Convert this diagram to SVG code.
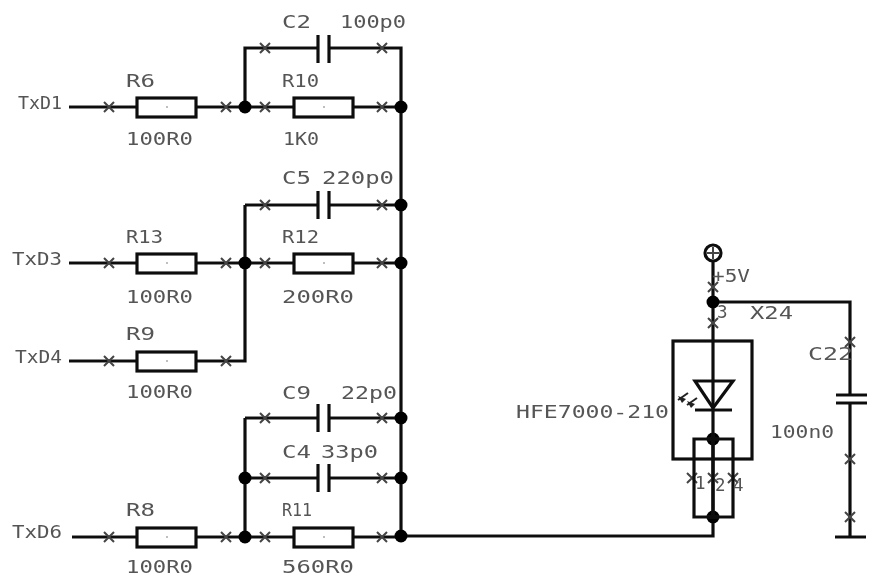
<svg xmlns="http://www.w3.org/2000/svg" xmlns:xlink="http://www.w3.org/1999/xlink" width="870" height="581" viewBox="0 0 870 581">
<style>
.w{fill:none;stroke:#111;stroke-width:3.2}
.t{font-family:"DejaVu Sans Mono","Liberation Mono",monospace;font-size:17.5px;fill:#555}
.d{fill:#000}
.x{fill:none;stroke:#444;stroke-width:2}
.c{fill:#aaa}
</style>
<defs>
<filter id="b" x="0" y="0" width="100%" height="100%"><feGaussianBlur stdDeviation="0.5"/></filter>
<g id="xm"><path class="x" d="M-5,-5L5,5M-5,5L5,-5"/></g>
<g id="res"><rect class="w" x="0" y="-9" width="59" height="19"/><circle class="c" cx="30" cy="0" r="1"/></g>
<g id="cap"><path class="w" d="M0,-14V14M11,-14V14"/></g>
</defs>
<rect width="870" height="581" fill="#fff"/>
<g filter="url(#b)">
<g id="connectors">
<path class="w" d="M69,107H137M196,107H294M352,107H401"/>
<path class="w" d="M245,107V48H318M329,48H401V536"/>
<path class="w" d="M245,205H318M329,205H401"/>
<path class="w" d="M69,263H137M196,263H294M352,263H401"/>
<path class="w" d="M69,361H137M196,361H245V205"/>
<path class="w" d="M245,418H318M329,418H401"/>
<path class="w" d="M245,478H318M329,478H401"/>
<path class="w" d="M245,418V537"/>
<path class="w" d="M72,537H137M196,537H294M352,537H401"/>
<path class="w" d="M401,536H713V439"/>
<path class="w" d="M713,261V408"/>
<path class="w" d="M713,302H850V395M850,403V537"/>
<use xlink:href="#xm" x="109" y="107"/><use xlink:href="#xm" x="226" y="107"/><use xlink:href="#xm" x="265" y="107"/><use xlink:href="#xm" x="382" y="107"/>
<use xlink:href="#xm" x="265" y="48"/><use xlink:href="#xm" x="382" y="48"/>
<use xlink:href="#xm" x="265" y="205"/><use xlink:href="#xm" x="382" y="205"/>
<use xlink:href="#xm" x="109" y="263"/><use xlink:href="#xm" x="226" y="263"/><use xlink:href="#xm" x="265" y="263"/><use xlink:href="#xm" x="382" y="263"/>
<use xlink:href="#xm" x="109" y="361"/><use xlink:href="#xm" x="226" y="361"/>
<use xlink:href="#xm" x="265" y="418"/><use xlink:href="#xm" x="382" y="418"/>
<use xlink:href="#xm" x="265" y="478"/><use xlink:href="#xm" x="382" y="478"/>
<use xlink:href="#xm" x="109" y="537"/><use xlink:href="#xm" x="226" y="537"/><use xlink:href="#xm" x="265" y="537"/><use xlink:href="#xm" x="382" y="537"/>
<use xlink:href="#xm" x="713" y="287"/><use xlink:href="#xm" x="713" y="323"/>
<use xlink:href="#xm" x="850" y="342"/><use xlink:href="#xm" x="850" y="459"/><use xlink:href="#xm" x="850" y="517"/>
<use xlink:href="#xm" x="692" y="478"/><use xlink:href="#xm" x="713" y="478"/><use xlink:href="#xm" x="733" y="478"/>
<g class="d"><circle cx="245" cy="107" r="6.5"/><circle cx="401" cy="107" r="6.5"/><circle cx="401" cy="205" r="6.5"/><circle cx="245" cy="263" r="6.5"/><circle cx="401" cy="263" r="6.5"/><circle cx="401" cy="418" r="6.5"/><circle cx="245" cy="478" r="6.5"/><circle cx="401" cy="478" r="6.5"/><circle cx="245" cy="537" r="6.5"/><circle cx="401" cy="536" r="6.5"/><circle cx="713" cy="302" r="6.5"/><circle cx="713" cy="439" r="6.5"/><circle cx="713" cy="517" r="6.5"/></g>
</g>
<g id="TxD1"><text class="t" x="18" y="109" textLength="44" lengthAdjust="spacingAndGlyphs">TxD1</text></g>
<g id="TxD3"><text class="t" x="12" y="265" textLength="50" lengthAdjust="spacingAndGlyphs">TxD3</text></g>
<g id="TxD4"><text class="t" x="15" y="363" textLength="47" lengthAdjust="spacingAndGlyphs">TxD4</text></g>
<g id="TxD6"><text class="t" x="12" y="538" textLength="50" lengthAdjust="spacingAndGlyphs">TxD6</text></g>
<g id="R6"><use xlink:href="#res" x="137" y="107"/><text class="t" x="126" y="87" textLength="29" lengthAdjust="spacingAndGlyphs">R6</text><text class="t" x="126" y="145" textLength="67" lengthAdjust="spacingAndGlyphs">100R0</text></g>
<g id="R10"><use xlink:href="#res" x="294" y="107"/><text class="t" x="282" y="87" textLength="37" lengthAdjust="spacingAndGlyphs">R10</text><text class="t" x="283" y="145" textLength="36" lengthAdjust="spacingAndGlyphs">1K0</text></g>
<g id="C2"><use xlink:href="#cap" x="318" y="49"/><text class="t" x="282" y="28" textLength="29" lengthAdjust="spacingAndGlyphs">C2</text><text class="t" x="340" y="28" textLength="66" lengthAdjust="spacingAndGlyphs">100p0</text></g>
<g id="C5"><use xlink:href="#cap" x="318" y="205"/><text class="t" x="282" y="184" textLength="29" lengthAdjust="spacingAndGlyphs">C5</text><text class="t" x="322" y="184" textLength="72" lengthAdjust="spacingAndGlyphs">220p0</text></g>
<g id="R13"><use xlink:href="#res" x="137" y="263"/><text class="t" x="126" y="243" textLength="37" lengthAdjust="spacingAndGlyphs">R13</text><text class="t" x="126" y="303" textLength="67" lengthAdjust="spacingAndGlyphs">100R0</text></g>
<g id="R12"><use xlink:href="#res" x="294" y="263"/><text class="t" x="282" y="243" textLength="37" lengthAdjust="spacingAndGlyphs">R12</text><text class="t" x="282" y="303" textLength="72" lengthAdjust="spacingAndGlyphs">200R0</text></g>
<g id="R9"><use xlink:href="#res" x="137" y="361"/><text class="t" x="126" y="340" textLength="29" lengthAdjust="spacingAndGlyphs">R9</text><text class="t" x="126" y="398" textLength="67" lengthAdjust="spacingAndGlyphs">100R0</text></g>
<g id="C9"><use xlink:href="#cap" x="318" y="418"/><text class="t" x="282" y="399" textLength="29" lengthAdjust="spacingAndGlyphs">C9</text><text class="t" x="341" y="399" textLength="56" lengthAdjust="spacingAndGlyphs">22p0</text></g>
<g id="C4"><use xlink:href="#cap" x="318" y="478"/><text class="t" x="282" y="458" textLength="29" lengthAdjust="spacingAndGlyphs">C4</text><text class="t" x="321" y="458" textLength="57" lengthAdjust="spacingAndGlyphs">33p0</text></g>
<g id="R8"><use xlink:href="#res" x="137" y="537"/><text class="t" x="126" y="516" textLength="29" lengthAdjust="spacingAndGlyphs">R8</text><text class="t" x="126" y="573" textLength="67" lengthAdjust="spacingAndGlyphs">100R0</text></g>
<g id="R11"><use xlink:href="#res" x="294" y="537"/><text class="t" x="282" y="516" textLength="30" lengthAdjust="spacingAndGlyphs">R11</text><text class="t" x="282" y="573" textLength="72" lengthAdjust="spacingAndGlyphs">560R0</text></g>
<g id="VCC"><circle class="w" cx="713" cy="253" r="8"/><path class="x" d="M707,253H719M713,247V259"/><text class="t" x="712" y="282" textLength="38" lengthAdjust="spacingAndGlyphs">+5V</text></g>
<g id="X24">
<rect class="w" x="673" y="341" width="79" height="118"/>
<path class="w" d="M695,381H733L713,408ZM695,410H732"/>
<path class="w" d="M713,410V439M694,517V439H733V517ZM713,439V517"/>
<path d="M678,400L688,393M687,405L697,398" stroke="#222" stroke-width="2" fill="none"/>
<path d="M678,396L682,403L686,399ZM687,401L691,408L695,404Z" fill="#222"/>
<text class="t" x="516" y="418" textLength="153" lengthAdjust="spacingAndGlyphs">HFE7000-210</text>
<text class="t" x="717" y="318">3</text>
<text class="t" x="750" y="319" textLength="43" lengthAdjust="spacingAndGlyphs">X24</text>
<text class="t" x="695" y="489">1</text><text class="t" x="715" y="491">2</text><text class="t" x="733" y="491">4</text>
</g>
<g id="C22">
<path class="w" d="M836,395H867M836,403H867M835,537H866"/>
<text class="t" x="808" y="360" textLength="45" lengthAdjust="spacingAndGlyphs">C22</text>
<text class="t" x="770" y="438" textLength="64" lengthAdjust="spacingAndGlyphs">100n0</text>
</g>
</g>
</svg>
